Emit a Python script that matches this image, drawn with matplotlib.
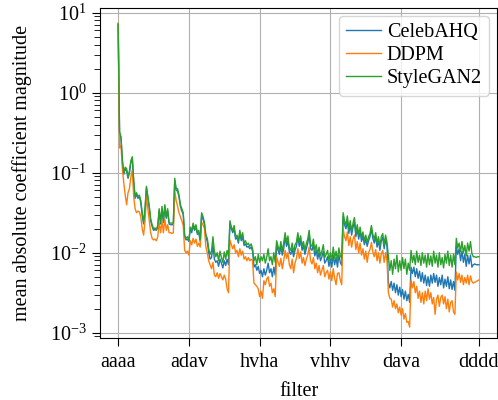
import numpy as np
import matplotlib
matplotlib.use("Agg")
import matplotlib.pyplot as plt

# filters are 4-letter words over a,h,v,d (base 4), 256 in total
letters = ['a', 'h', 'v', 'd']
filter_names = [letters[i // 64] + letters[(i // 16) % 4] + letters[(i // 4) % 4] + letters[i % 4]
                for i in range(256)]
tick_idx = [0, 50, 100, 150, 200, 255]

# values, as log10 of the magnitude
celeba_log10 = [
    0.85, -0.5, -0.57, -0.86, -1.02, -0.95, -0.98, -1.07, -1.0, -0.87, -0.82, -1.12, -1.32, -1.27, -1.32, -1.3,
    -1.37, -1.53, -1.64, -1.47, -1.19, -1.32, -1.44, -1.6, -1.67, -1.72, -1.71, -1.72, -1.68, -1.48, -1.64, -1.45,
    -1.62, -1.43, -1.57, -1.48, -1.64, -1.65, -1.65, -1.65, -1.1, -1.22, -1.23, -1.3, -1.42, -1.48, -1.52, -1.8,
    -1.84, -1.83, -1.86, -1.7, -1.75, -1.66, -1.72, -1.68, -1.77, -1.75, -1.86, -1.53, -1.58, -1.65, -1.8, -1.86,
    -2.0, -2.08, -2.06, -1.9, -2.08, -2.12, -2.1, -2.17, -2.08, -2.13, -2.19, -2.1, -2.16, -2.08, -2.15, -1.63,
    -1.7, -1.75, -1.7, -1.83, -1.81, -1.88, -1.76, -1.85, -1.8, -1.91, -1.89, -1.93, -1.92, -1.95, -1.93, -1.98,
    -2.18, -2.15, -2.22, -2.17, -2.26, -2.22, -2.3, -2.2, -2.28, -2.22, -2.13, -2.25, -2.2, -2.3, -2.18, -2.28,
    -1.9, -1.97, -2.02, -1.92, -2.03, -1.95, -1.8, -1.92, -1.85, -1.99, -2.02, -1.95, -2.05, -1.97, -1.92, -1.8,
    -1.92, -1.85, -1.97, -1.91, -2.02, -1.95, -1.88, -1.78, -1.95, -1.97, -1.9, -2.04, -1.97, -2.08, -2.0, -2.1,
    -2.05, -1.98, -2.13, -2.1, -2.05, -2.17, -2.08, -2.18, -2.03, -2.15, -2.06, -2.18, -2.03, -2.12, -2.16, -1.55,
    -1.65, -1.7, -1.6, -1.76, -1.65, -1.78, -1.68, -1.62, -1.8, -1.7, -1.83, -1.73, -1.86, -1.79, -1.9, -1.83,
    -1.92, -1.85, -1.8, -1.7, -1.82, -1.88, -1.8, -1.93, -1.85, -1.97, -1.85, -1.81, -1.95, -1.83, -1.92, -2.37,
    -2.44, -2.36, -2.47, -2.38, -2.5, -2.4, -2.53, -2.43, -2.55, -2.46, -2.58, -2.48, -2.6, -2.52, -2.62, -2.18,
    -2.26, -2.18, -2.3, -2.2, -2.32, -2.23, -2.36, -2.25, -2.38, -2.28, -2.41, -2.3, -2.42, -2.28, -2.38, -2.26,
    -2.37, -2.28, -2.42, -2.31, -2.4, -2.28, -2.44, -2.33, -2.42, -2.3, -2.45, -2.34, -2.46, -2.36, -2.47, -1.92,
    -2.02, -1.95, -2.1, -1.98, -2.12, -2.02, -2.17, -2.03, -2.14, -2.03, -2.18, -2.15, -2.14, -2.15, -2.15, -2.15,
]
ddpm_log10 = [
    0.87, -0.69, -0.66, -0.95, -1.13, -1.28, -1.4, -1.25, -1.2, -1.05, -0.97, -1.3, -1.45, -1.5, -1.48, -1.49,
    -1.55, -1.7, -1.78, -1.6, -1.3, -1.45, -1.6, -1.75, -1.82, -1.84, -1.83, -1.85, -1.8, -1.62, -1.75, -1.6,
    -1.75, -1.58, -1.72, -1.65, -1.75, -1.75, -1.76, -1.75, -1.22, -1.35, -1.42, -1.5, -1.55, -1.6, -1.66, -1.97,
    -2.0, -1.98, -2.03, -1.85, -1.9, -1.82, -1.88, -1.83, -1.92, -1.88, -1.93, -1.62, -1.65, -1.7, -1.93, -2.0,
    -2.1, -2.15, -2.2, -2.12, -2.28, -2.3, -2.25, -2.32, -2.26, -2.3, -2.34, -2.28, -2.33, -2.45, -2.5, -1.84,
    -1.9, -1.95, -1.9, -2.0, -1.97, -2.05, -1.95, -2.03, -1.98, -2.08, -2.05, -2.1, -2.06, -2.1, -2.08, -2.1,
    -2.38, -2.4, -2.42, -2.45, -2.55, -2.48, -2.57, -2.35, -2.4, -2.33, -2.3, -2.42, -2.38, -2.5, -2.45, -2.55,
    -2.05, -2.12, -2.17, -2.07, -2.2, -2.1, -1.97, -2.07, -2.0, -2.15, -2.2, -2.08, -2.25, -2.13, -2.07, -1.95,
    -2.07, -1.99, -2.13, -2.06, -2.16, -2.08, -2.03, -1.93, -2.1, -2.14, -2.06, -2.2, -2.13, -2.25, -2.16, -2.28,
    -2.22, -2.16, -2.3, -2.25, -2.22, -2.33, -2.24, -2.35, -2.2, -2.32, -2.4, -2.26, -2.25, -2.34, -2.4, -1.7,
    -1.8, -1.85, -1.74, -1.91, -1.8, -1.93, -1.83, -1.78, -1.96, -1.86, -2.0, -1.88, -2.03, -1.95, -2.08, -1.98,
    -2.12, -2.0, -1.96, -1.87, -1.99, -2.05, -1.96, -2.1, -2.0, -2.13, -2.01, -1.97, -2.12, -2.0, -2.1, -2.5,
    -2.57, -2.58, -2.68, -2.6, -2.7, -2.64, -2.75, -2.68, -2.78, -2.7, -2.83, -2.76, -2.87, -2.86, -2.93, -2.34,
    -2.44, -2.36, -2.5, -2.42, -2.57, -2.48, -2.62, -2.5, -2.64, -2.48, -2.6, -2.45, -2.58, -2.5, -2.64, -2.56,
    -2.77, -2.58, -2.53, -2.67, -2.56, -2.53, -2.64, -2.55, -2.7, -2.58, -2.74, -2.62, -2.6, -2.74, -2.77, -2.24,
    -2.34, -2.26, -2.37, -2.28, -2.4, -2.31, -2.38, -2.28, -2.4, -2.29, -2.36, -2.38, -2.37, -2.36, -2.35, -2.34,
]
stylegan_log10 = [
    0.86, -0.49, -0.55, -0.84, -1.0, -0.93, -0.95, -1.05, -0.98, -0.85, -0.8, -1.1, -1.3, -1.25, -1.3, -1.28,
    -1.35, -1.5, -1.62, -1.45, -1.17, -1.3, -1.42, -1.58, -1.65, -1.7, -1.69, -1.71, -1.66, -1.45, -1.62, -1.42,
    -1.6, -1.4, -1.55, -1.45, -1.62, -1.63, -1.63, -1.63, -1.07, -1.2, -1.2, -1.28, -1.4, -1.45, -1.5, -1.78,
    -1.82, -1.8, -1.84, -1.68, -1.72, -1.63, -1.7, -1.65, -1.75, -1.72, -1.84, -1.5, -1.55, -1.62, -1.78, -1.82,
    -1.95, -2.02, -1.98, -1.8, -1.98, -2.05, -2.0, -2.1, -1.98, -2.06, -2.12, -1.99, -2.08, -1.97, -2.05, -1.6,
    -1.68, -1.72, -1.66, -1.8, -1.78, -1.85, -1.72, -1.82, -1.75, -1.88, -1.85, -1.9, -1.88, -1.92, -1.89, -1.95,
    -2.1, -2.05, -2.15, -2.02, -2.12, -2.05, -2.1, -2.02, -2.13, -2.06, -1.95, -2.1, -2.05, -2.15, -2.0, -2.12,
    -1.85, -1.92, -1.98, -1.86, -1.98, -1.88, -1.75, -1.87, -1.79, -1.94, -1.97, -1.88, -2.0, -1.9, -1.87, -1.75,
    -1.87, -1.79, -1.92, -1.86, -1.97, -1.88, -1.83, -1.72, -1.9, -1.92, -1.83, -1.98, -1.9, -2.02, -1.93, -2.04,
    -1.98, -1.9, -2.06, -2.02, -1.97, -2.1, -2.0, -2.1, -1.93, -2.07, -1.98, -2.1, -1.94, -2.04, -2.07, -1.5,
    -1.6, -1.65, -1.54, -1.71, -1.6, -1.73, -1.63, -1.56, -1.75, -1.65, -1.78, -1.68, -1.81, -1.74, -1.85, -1.78,
    -1.87, -1.8, -1.76, -1.66, -1.77, -1.83, -1.75, -1.88, -1.8, -1.92, -1.8, -1.76, -1.9, -1.78, -1.87, -2.05,
    -2.22, -2.1, -2.27, -2.08, -2.2, -2.03, -2.24, -2.1, -2.22, -2.06, -2.2, -2.08, -2.27, -2.13, -2.22, -1.97,
    -2.12, -2.03, -2.15, -1.98, -2.12, -2.03, -2.16, -2.0, -2.13, -2.03, -2.18, -2.01, -2.15, -2.04, -2.17, -1.98,
    -2.13, -2.03, -2.18, -2.0, -2.15, -2.06, -2.19, -2.02, -2.13, -1.98, -2.16, -2.03, -2.18, -2.02, -2.15, -1.82,
    -1.94, -1.88, -1.99, -1.86, -2.0, -1.91, -2.04, -1.88, -1.98, -1.86, -2.01, -2.05, -2.05, -2.06, -2.05, -2.05,
]

plt.rcParams['font.family'] = ['Liberation Serif', 'DejaVu Serif']
plt.rcParams['mathtext.fontset'] = 'stix'
plt.rcParams['font.size'] = 14.5

fig = plt.figure(figsize=(4.98, 4.0), dpi=100)
ax = fig.add_axes([0.201, 0.155, 0.797, 0.825])

x = np.arange(256)
ax.plot(x, 10 ** np.array(celeba_log10), color='#1f77b4', lw=1.0, label='CelebAHQ')
ax.plot(x, 10 ** np.array(ddpm_log10), color='#ff7f0e', lw=1.0, label='DDPM')
ax.plot(x, 10 ** np.array(stylegan_log10), color='#2ca02c', lw=1.0, label='StyleGAN2')

ax.set_yscale('log')
ax.set_ylim(10 ** -3.066, 10 ** 1.059)
ax.set_xlim(-12.75, 267.75)
ax.set_xticks(tick_idx)
ax.set_xticklabels([filter_names[i] for i in tick_idx])
ax.tick_params(which='major', length=6)
ax.tick_params(which='minor', length=4)
ax.tick_params(axis='x', pad=5)
ax.grid(True, which='major', color='#b0b0b0', lw=0.8)
ax.set_axisbelow(True)
ax.set_xlabel('filter', labelpad=7)
ax.set_ylabel('mean absolute coefficient magnitude', labelpad=13)
ax.legend(loc='upper right', fontsize=14.5, handlelength=1.7, handletextpad=0.3,
          labelspacing=0.2, borderaxespad=0.4, borderpad=0.35)

fig.savefig('out.png', dpi=100)
